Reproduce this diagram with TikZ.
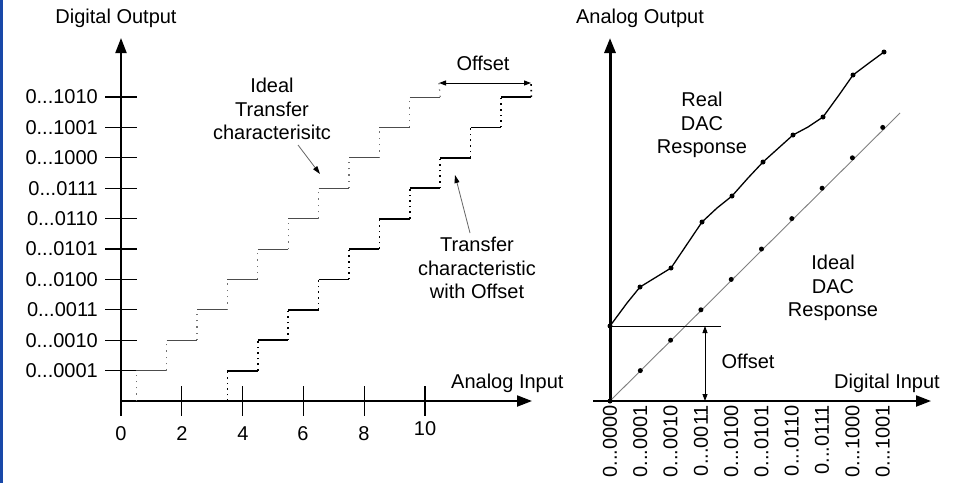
\documentclass[tikz,border=0pt]{standalone}
\usepackage{fontspec}
\setmainfont{Liberation Sans}
\usetikzlibrary{arrows.meta}
\definecolor{barblue}{RGB}{24,72,168}
\newcommand{\tdots}{...}
\begin{document}
\begin{tikzpicture}[x=1pt,y=-1pt,
  font=\fontsize{20}{23.5}\selectfont,
  axisline/.style={line width=2pt,-{Triangle[length=15pt,width=11pt]}},
  tickline/.style={line width=1.2pt},
  idealstair/.style={line width=1pt,black!70},
  offstair/.style={line width=1.8pt,black},
  idealdot/.style={line width=1.2pt,black!55,dash pattern=on 1.3pt off 5pt},
  offdot/.style={line width=1.6pt,black,dash pattern=on 1.6pt off 4pt},
  dimarrow/.style={line width=1pt,{Triangle[length=7pt,width=5pt]}-{Triangle[length=7pt,width=5pt]}},
  noteline/.style={line width=0.8pt,black!60,-{Triangle[length=8pt,width=5pt,fill=black,color=black]}},
  lbl/.style={inner sep=0pt},
  dacdot/.style={circle,fill=black,inner sep=0pt,minimum size=5pt}]
\useasboundingbox (0,0) rectangle (957,483);
\fill[white] (0,0) rectangle (957,483);
\fill[barblue] (0,0) rectangle (2.5,483);

% ---------- left plot ----------
\coordinate (ya0) at (121,416);
\coordinate (ya1) at (121,38);
\coordinate (xa0) at (121,401);
\coordinate (xa1) at (532,401);
\draw[axisline] (ya0) -- (ya1);
\draw[axisline] (xa0) -- (xa1);
\node[lbl] (dout) at (116,18) {Digital Output};
\node[lbl,anchor=west] (ain) at (451,383) {Analog Input};

\foreach \k/\t in {1/0\tdots0001,2/0\tdots0010,3/0\tdots0011,4/0\tdots0100,5/0\tdots0101,6/0\tdots0110,7/0\tdots0111,8/0\tdots1000,9/0\tdots1001,10/0\tdots1010} {
  \pgfmathsetmacro\yk{401-30.4*\k}
  \coordinate (tl\k) at (105,\yk);
  \coordinate (tr\k) at (137,\yk);
  \draw[tickline] (tl\k) -- (tr\k);
  \node[lbl,anchor=east] (yl\k) at (98,\yk) {\t};
}
\foreach \u in {2,4,6,8,10} {
  \pgfmathsetmacro\xu{121+30.4*\u}
  \coordinate (tb\u) at (\xu,386);
  \coordinate (tt\u) at (\xu,416);
  \draw[tickline] (tb\u) -- (tt\u);
}
\node[lbl] (x0) at (121,434) {0};
\node[lbl] (x2) at (182,434) {2};
\node[lbl] (x4) at (243,434) {4};
\node[lbl] (x6) at (303,434) {6};
\node[lbl] (x8) at (364,434) {8};
\node[lbl] (x10) at (425,429) {10};

\foreach \k in {1,...,10} {
  \pgfmathsetmacro\yk{401-30.4*\k}
  \pgfmathsetmacro\yp{401-30.4*(\k-1)}
  \pgfmathsetmacro\xa{121+30.4*(\k-0.5)}
  \pgfmathsetmacro\xb{121+30.4*(\k+0.5)}
  \pgfmathsetmacro\xc{121+30.4*(\k+2.5)}
  \pgfmathsetmacro\xd{121+30.4*(\k+3.5)}
  \coordinate (ia\k) at (\xa,\yk);
  \coordinate (ib\k) at (\xb,\yk);
  \coordinate (ip\k) at (\xa,\yp);
  \coordinate (oa\k) at (\xc,\yk);
  \coordinate (ob\k) at (\xd,\yk);
  \coordinate (op\k) at (\xc,\yp);
  \draw[idealdot] (ip\k) -- (ia\k);
  \draw[idealstair] (ia\k) -- (ib\k);
  \draw[offdot] (op\k) -- (oa\k);
  \draw[offstair] (oa\k) -- (ob\k);
}
\coordinate (offL) at (439,83);
\coordinate (offR) at (531,83);
\draw[idealdot] (ib10) -- (offL);
\draw[offdot] (ob10) -- (offR);
\draw[dimarrow] (offL) -- (offR);
\node[lbl] (offtxt) at (483,63) {Offset};

\node[lbl,align=center] (itc) at (272,109) {Ideal\\Transfer\\characterisitc};
\coordinate (itcA) at (298,145);
\coordinate (itcB) at (320,174);
\draw[noteline] (itcA) -- (itcB);
\node[lbl,align=center] (otc) at (477,268) {Transfer\\characteristic\\with Offset};
\coordinate (otcA) at (470,233);
\coordinate (otcB) at (455,175);
\draw[noteline] (otcA) -- (otcB);

% ---------- right plot ----------
\coordinate (rya0) at (610,402);
\coordinate (rya1) at (610,38);
\coordinate (rxa0) at (593,401);
\coordinate (rxa1) at (931,401);
\draw[axisline,line width=3pt] (rya0) -- (rya1);
\draw[axisline] (rxa0) -- (rxa1);
\node[lbl] (aout) at (640,18) {Analog Output};
\node[lbl] (din) at (887,383) {Digital Input};

\foreach \i/\t in {0/0\tdots0000,1/0\tdots0001,2/0\tdots0010,3/0\tdots0011,4/0\tdots0100,5/0\tdots0101,6/0\tdots0110,7/0\tdots0111,8/0\tdots1000,9/0\tdots1001} {
  \pgfmathsetmacro\xi{610+30.3*\i}
  \node[lbl,rotate=90,anchor=east] (dl\i) at (\xi,405) {\t};
}

% ideal DAC response
\coordinate (idS) at (610,401);
\coordinate (idE) at (900,113);
\draw[line width=0.9pt,black!50] (idS) -- (idE);
\foreach \i in {0,...,9} {
  \pgfmathsetmacro\xi{610+30.3*\i}
  \pgfmathsetmacro\yi{401-30.4*\i}
  \node[dacdot] (id\i) at (\xi,\yi) {};
}

% real DAC response
\node[dacdot] (r0) at (610,326) {};
\node[dacdot] (r1) at (640,287) {};
\node[dacdot] (r2) at (671,268) {};
\node[dacdot] (r3) at (702,222) {};
\node[dacdot] (r4) at (732,196) {};
\node[dacdot] (r5) at (763,162) {};
\node[dacdot] (r6) at (793,135) {};
\node[dacdot] (r7) at (823,117) {};
\node[dacdot] (r8) at (853,75) {};
\node[dacdot] (r9) at (884,52) {};
\coordinate (m0) at (627,303);
\coordinate (m3) at (717,208);
\coordinate (m4) at (748,178);
\coordinate (m6) at (808,127);
\coordinate (m7) at (839,95);
\coordinate (m8) at (869,63);
\draw[line width=1.3pt,black] (r0.center) -- (m0) -- (r1.center) -- (r2.center) -- (r3.center) -- (m3) -- (r4.center) -- (m4) -- (r5.center) -- (r6.center) -- (m6) -- (r7.center) -- (m7) -- (r8.center) -- (m8) -- (r9.center);

\coordinate (ofE) at (721,326);
\draw[line width=1pt] (r0.center) -- (ofE);
\coordinate (oa) at (705,326);
\coordinate (ob) at (705,401);
\draw[dimarrow,line width=0.8pt] (oa) -- (ob);
\node[lbl] (offtxt2) at (748,361) {Offset};

\node[lbl,align=center] (real) at (702,125) {Real\\DAC\\Response};
\node[lbl,align=center] (ideal) at (833,288) {Ideal\\DAC\\Response};
\end{tikzpicture}
\end{document}
